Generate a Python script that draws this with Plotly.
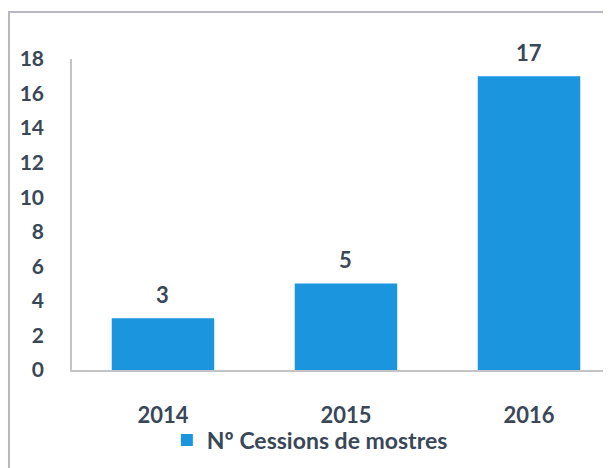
import plotly.graph_objects as go

years = ["2014", "2015", "2016"]
cessions = [3, 5, 17]
y_ticks = [0, 2, 4, 6, 8, 10, 12, 14, 16, 18]
series_name = "Nº Cessions de mostres"

TXT = "#3a4758"
BAR = "#1c95df"
FONT = "Lato"

# page body has an 8px margin; figure is sized to fit the window
W, H = 603, 460
L, T, B = 64, 51, 98
PW, PH = W - L, H - T - B

fig = go.Figure()
fig.add_trace(go.Bar(
    x=list(range(len(years))), y=cessions, name=series_name,
    marker=dict(color=BAR, line=dict(width=0)),
    width=0.56, showlegend=True,
))

for i, v in enumerate(cessions):
    fig.add_annotation(x=i, y=v, text=str(v), showarrow=False,
                       yshift=24, font=dict(family=FONT, size=22, color=TXT, weight="bold"))

bx = (0 - L) / PW
by = (PH + T - 4) / PH

fig.update_layout(
    width=W, height=H,
    margin=dict(l=L, r=0, t=T, b=B, autoexpand=False),
    paper_bgcolor="white", plot_bgcolor="white",
    font=dict(family=FONT, size=22, color=TXT, weight="bold"),
    legend=dict(orientation="h", x=0.176, xanchor="left", y=-0.225, yanchor="middle",
                font=dict(family=FONT, size=23, color=TXT, weight="bold"),
                bgcolor="rgba(0,0,0,0)"),
    xaxis=dict(range=[-0.497, 2.448], tickvals=list(range(len(years))), ticktext=years,
               showgrid=False, showline=True, linecolor="#c4c4c8", zeroline=False,
               linewidth=1.5, ticks="", ticklabelstandoff=25, tickfont=dict(size=22)),
    yaxis=dict(range=[0, 18], tickvals=y_ticks, showgrid=False, showline=True,
               linecolor="#c4c4c8", linewidth=1.5, ticks="", ticklabelstandoff=22,
               zeroline=False, tickfont=dict(size=21)),
    shapes=[
        dict(type="line", xref="paper", yref="paper", x0=bx, x1=1.0,
             y0=by, y1=by, line=dict(color="#b8b8c2", width=2)),
        dict(type="line", xref="paper", yref="paper", x0=bx + 1 / PW, x1=bx + 1 / PW,
             y0=by, y1=-B / PH, line=dict(color="#b8b8c2", width=2)),
    ],
)

fig.write_html("out.html")
